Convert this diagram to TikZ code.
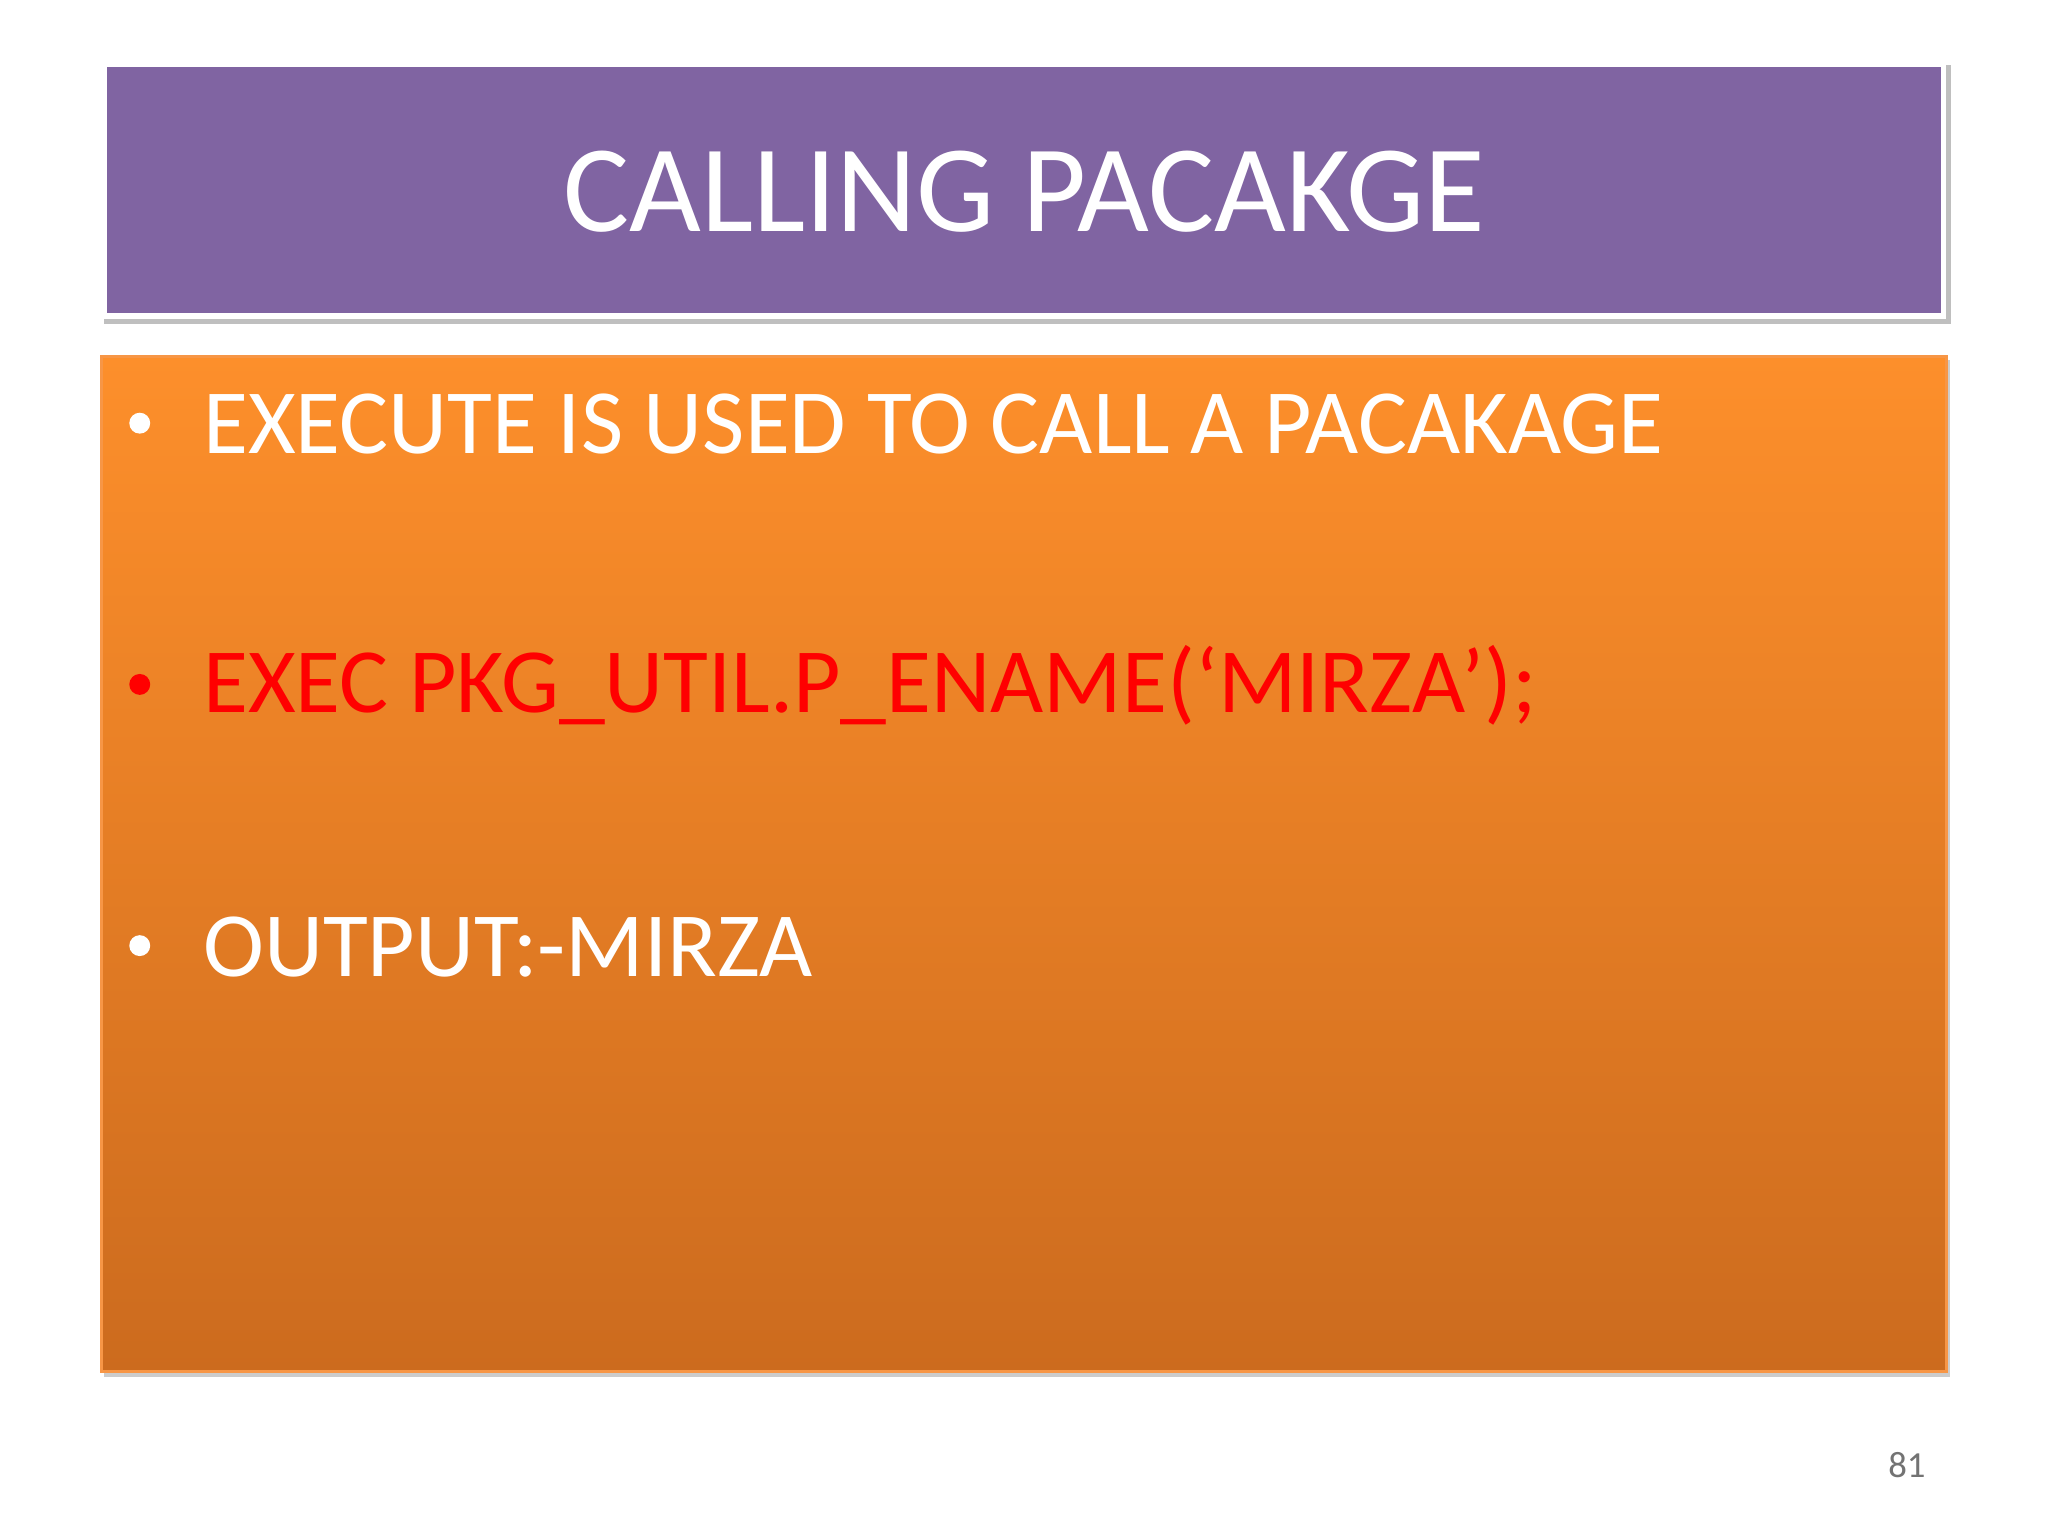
\documentclass[tikz,border=0pt]{standalone}
\usepackage{fontspec}
\setmainfont{Carlito}
\definecolor{ttl}{HTML}{8064A2}
\definecolor{otop}{HTML}{FD8F2B}
\definecolor{obot}{HTML}{CC6B1E}
\definecolor{oline}{HTML}{F79646}
\begin{document}
\begin{tikzpicture}[x=0.01cm,y=-0.01cm,
  bul/.style={anchor=west,font=\fontsize{20}{24}\selectfont,text=white,inner sep=0},
  dot/.style={circle,fill=white,inner sep=0,minimum size=0.16cm}]
\useasboundingbox (0,0) rectangle (1568,1176);
\fill[white] (0,0) rectangle (1568,1176);
% title
\fill[black!25] (80,50) rectangle (1494,248);
\fill[white] (78,47) rectangle (1490,244);
\fill[ttl] (82,51) rectangle (1486,240);
\node[font=\fontsize{27}{32}\selectfont,text=white] (title) at (784,147) {CALLING PACAKGE};
% body
\fill[black!20] (80,276) rectangle (1493,1054);
\shade[top color=otop,bottom color=obot,draw=oline,line width=0.6pt] (78,273) rectangle (1490,1050);
\node[dot] (d1) at (107,324) {};
\node[bul] (t1) at (155,325) {EXECUTE IS USED TO CALL A PACAKAGE};
\node[dot,fill=red] (d2) at (107,524) {};
\node[bul,text=red] (t2) at (155,525) {EXEC PKG\_UTIL.P\_ENAME(‘MIRZA{\char"0027});};
\node[dot] (d3) at (107,724) {};
\node[bul] (t3) at (155,725) {OUTPUT:-MIRZA};
\node[font=\fontsize{8}{10}\selectfont,text=black!55] (pg) at (1460,1122) {81};
\end{tikzpicture}
\end{document}
